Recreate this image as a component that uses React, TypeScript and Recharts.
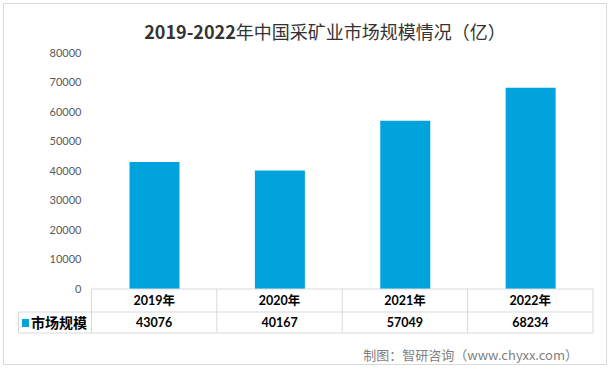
import { Bar, BarChart, XAxis, YAxis } from "recharts";

const YEARS = ["2019年", "2020年", "2021年", "2022年"];
const SCALE_VALUES = [43076, 40167, 57049, 68234];
const Y_TICKS = [0, 10000, 20000, 30000, 40000, 50000, 60000, 70000, 80000];

const SERIES_NAME = "市场规模";
const BLUE = "#00A3DC";
const GRID = "#D9D9D9";
const CJK = '"Noto Sans CJK SC", "Noto Sans", sans-serif';
const LATIN = 'Lato, "Noto Sans CJK SC", sans-serif';

const data = YEARS.map((year, i) => ({ year, value: SCALE_VALUES[i] }));

const PLOT_LEFT = 91.5;
const PLOT_RIGHT = 593;
const CELL_W = (PLOT_RIGHT - PLOT_LEFT) / YEARS.length;
const ROW1 = 23;
const ROW2 = 44;
const LABEL_LEFT = 18.5;

function TableTick(props: any) {
  const { x, y, payload, index } = props;
  const left = x - CELL_W / 2;
  const right = x + CELL_W / 2;
  const isFirst = index === 0;
  const isLast = index === YEARS.length - 1;
  return (
    <g>
      <line x1={left} y1={y} x2={left} y2={y + ROW2} stroke={GRID} />
      {isLast && <line x1={right} y1={y} x2={right} y2={y + ROW2} stroke={GRID} />}
      <line x1={left} y1={y + ROW1} x2={right} y2={y + ROW1} stroke={GRID} />
      <line x1={left} y1={y + ROW2} x2={right} y2={y + ROW2} stroke={GRID} />
      <text
        x={x}
        y={y + 16}
        textAnchor="middle"
        fontSize={12.5}
        fontWeight="bold"
        fill="#000"
        fontFamily={LATIN}
      >
        {payload.value}
      </text>
      <text
        x={x}
        y={y + 38}
        textAnchor="middle"
        fontSize={12.5}
        fontWeight="bold"
        fill="#000"
        fontFamily={LATIN}
      >
        {SCALE_VALUES[index]}
      </text>
      {isFirst && (
        <g>
          <line x1={LABEL_LEFT} y1={y + ROW1} x2={left} y2={y + ROW1} stroke={GRID} />
          <line x1={LABEL_LEFT} y1={y + ROW2} x2={left} y2={y + ROW2} stroke={GRID} />
          <line x1={LABEL_LEFT} y1={y + ROW1} x2={LABEL_LEFT} y2={y + ROW2} stroke={GRID} />
          <rect x={22} y={y + 30} width={7} height={8} fill={BLUE} />
          <text
            x={31}
            y={y + 39}
            fontSize={14}
            fontWeight="bold"
            fill="#000"
            fontFamily={CJK}
          >
            {SERIES_NAME}
          </text>
        </g>
      )}
    </g>
  );
}

export default function App() {
  return (
    <div
      style={{
        position: "absolute",
        left: 0,
        top: 0,
        width: 611,
        height: 369,
        background: "#fff",
      }}
    >
      <div
        style={{
          position: "absolute",
          left: 3,
          top: 3,
          width: 602,
          height: 360,
          border: "1px solid #D9D9D9",
        }}
      />
      <div
        style={{
          position: "absolute",
          left: 0,
          top: 18,
          width: 650,
          textAlign: "center",
          fontFamily: CJK,
          fontSize: 18,
          color: "#333",
          whiteSpace: "nowrap",
        }}
      >
        <b>2019-2022</b>年中国采矿业市场规模情况（亿）
      </div>
      <div
        style={{
          position: "absolute",
          right: 33,
          top: 345,
          fontFamily: CJK,
          fontSize: 13,
          color: "#7F7F7F",
          whiteSpace: "nowrap",
        }}
      >
        制图：智研咨询（www.chyxx.com）
      </div>
      <BarChart
        width={611}
        height={369}
        data={data}
        margin={{ top: 53, right: 611 - PLOT_RIGHT, left: 0, bottom: 0 }}
        style={{ position: "absolute", left: 0, top: 0 }}
      >
        <YAxis
          width={PLOT_LEFT}
          domain={[0, 80000]}
          ticks={Y_TICKS}
          axisLine={false}
          tickLine={false}
          tickSize={0}
          tickMargin={10}
          interval={0}
          tick={{ fontSize: 11, fill: "#595959", fontFamily: LATIN }}
        />
        <XAxis
          dataKey="year"
          height={80}
          axisLine={{ stroke: GRID }}
          tickLine={false}
          tickSize={0}
          tickMargin={0}
          interval={0}
          tick={<TableTick />}
        />
        <Bar dataKey="value" fill={BLUE} barSize={50} isAnimationActive={false} />
      </BarChart>
    </div>
  );
}
